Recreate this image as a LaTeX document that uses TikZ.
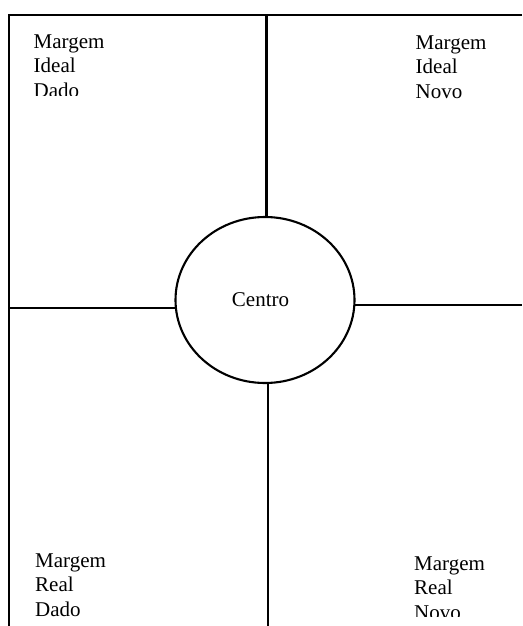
\documentclass[tikz,border=0pt]{standalone}
\usepackage{fontspec}
\setmainfont{Liberation Serif}
\usetikzlibrary{shapes.geometric}
\begin{document}
\begin{tikzpicture}[x=1pt,y=-1pt,
  rule/.style={line width=2.1pt,black},
  lbl/.style={anchor=base west,inner sep=0pt,text width=100pt,align=left,
    font=\fontsize{21}{24.5}\selectfont},
  centre/.style={ellipse,draw,line width=2.1pt,minimum width=179pt,minimum height=166pt,inner sep=0pt,
    font=\fontsize{21}{24.5}\selectfont}]
\useasboundingbox (0,0) rectangle (522,626);
\coordinate (tl) at (9,15);
\coordinate (tr) at (522,15);
\coordinate (bl) at (9,626);
\coordinate (rr) at (522,300);
\coordinate (bb) at (268,626);
\node[centre] (centro) at (265,300) {\hspace*{-9pt}Centro};
\draw[rule] (tr) -- (tl) -- (bl);
\draw[rule] (centro.89) -- (centro.89 |- tl);
\draw[rule] (centro.272) -- (centro.272 |- bb);
\draw[rule] (centro.185) -- (centro.185 -| tl);
\draw[rule] (centro.357) -- (centro.357 -| rr);
\begin{scope}
\clip (0,0) rectangle (260,95);
\node[lbl] (mid) at (33.5,48.5) {Margem\\Ideal\\Dado};
\end{scope}
\node[lbl] (min) at (415.5,49) {Margem\\Ideal\\Novo};
\node[lbl] (mrd) at (35,567) {Margem\\Real\\Dado};
\begin{scope}
\clip (270,400) rectangle (522,616);
\node[lbl] (mrn) at (414,570) {Margem\\Real\\Novo};
\end{scope}
\end{tikzpicture}
\end{document}
